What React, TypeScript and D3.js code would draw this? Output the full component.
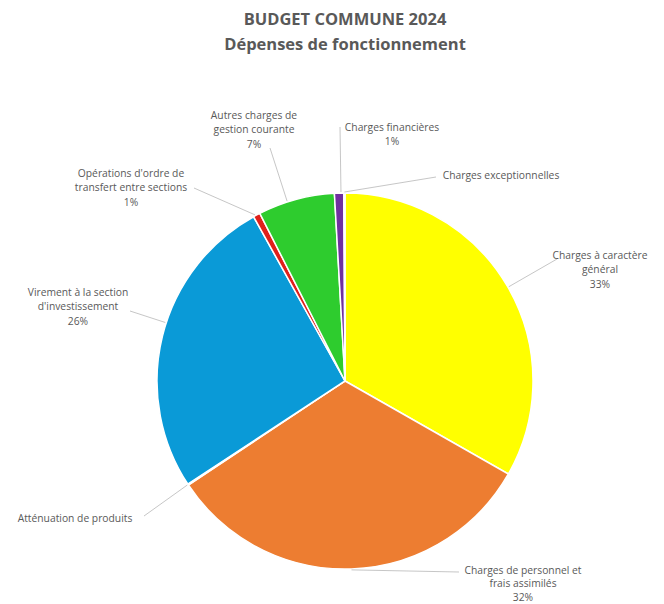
import React from "react";
import * as d3 from "d3";

const categories = [
  "Charges à caractère général",
  "Charges de personnel et frais assimilés",
  "Atténuation de produits",
  "Virement à la section d'investissement",
  "Opérations d'ordre de transfert entre sections",
  "Autres charges de gestion courante",
  "Charges financières",
  "Charges exceptionnelles",
];
const values = [33.3, 32.5, 0.1, 26.2, 0.6, 6.6, 0.8, 0.1];
const percentLabels = ["33%", "32%", "", "26%", "1%", "7%", "1%", ""];
const labelLines = [
  ["Charges à caractère", "général"],
  ["Charges de personnel et", "frais assimilés"],
  ["Atténuation de produits"],
  ["Virement à la section", "d'investissement"],
  ["Opérations d'ordre de", "transfert entre sections"],
  ["Autres charges de", "gestion courante"],
  ["Charges financières"],
  ["Charges exceptionnelles"],
];
const colors = ["#FFFF00", "#ED7D31", "#A5A5A5", "#0A9AD7", "#E0201B", "#2ECC2E", "#7030A0", "#BFBFBF"];

// layout of labels: text centre x, first line centre y, line height, leader anchor, mode
const labelLayout = [
  { cx: 600, cy: 255, lh: 14.5, ax: 557, ay: 259, mode: "near" },
  { cx: 523, cy: 570, lh: 13.5, ax: 459, ay: 572, mode: "mid" },
  { cx: 75, cy: 518, lh: 14.5, ax: 144, ay: 516, mode: "near" },
  { cx: 78, cy: 292, lh: 14.5, ax: 130, ay: 311, mode: "near" },
  { cx: 131, cy: 173, lh: 14.5, ax: 194, ay: 188, mode: "near" },
  { cx: 254, cy: 115, lh: 14.5, ax: 270, ay: 148, mode: "near" },
  { cx: 392, cy: 127, lh: 14.5, ax: 340, ay: 127, mode: "near" },
  { cx: 501, cy: 175, lh: 14.5, ax: 436, ay: 177, mode: "near" },
];

const W = 664;
const H = 604;
const CX = 345;
const CY = 381;
const R = 188;

export default function App() {
  const pie = d3.pie<number>().sort(null).value((d) => d);
  const arcs = pie(values);
  const arcGen = d3.arc<d3.PieArcDatum<number>>().innerRadius(0).outerRadius(R);

  const leaderTarget = (i: number) => {
    const a = arcs[i];
    const lay = labelLayout[i];
    let ang: number;
    if (lay.mode === "mid") {
      ang = (a.startAngle + a.endAngle) / 2;
    } else {
      const dx = lay.ax - CX;
      const dy = lay.ay - CY;
      ang = Math.atan2(dx, -dy);
      if (ang < 0) ang += Math.PI * 2;
      const lo = a.startAngle;
      const hi = a.endAngle;
      const span = hi - lo;
      const inset = Math.min(span * 0.3, 0.02);
      if (ang < lo + inset || ang > hi - inset) {
        const dist = (x: number, y: number) => {
          let d = Math.abs(x - y) % (Math.PI * 2);
          return d > Math.PI ? Math.PI * 2 - d : d;
        };
        ang = dist(ang, lo) < dist(ang, hi) ? lo + inset : hi - inset;
        if (span < 0.01) ang = (lo + hi) / 2;
      }
    }
    return [CX + (R + 1) * Math.sin(ang), CY - (R + 1) * Math.cos(ang)];
  };

  return (
    <svg width={W} height={H} style={{ display: "block", position: "absolute", left: 0, top: 0 }}>
      <rect width={W} height={H} fill="#FFFFFF" />
      <text x={345} y={25} textAnchor="middle" fontFamily="'Open Sans', sans-serif" fontWeight="bold" fontSize={16.5} fill="#595959">
        BUDGET COMMUNE 2024
      </text>
      <text x={345} y={50} textAnchor="middle" fontFamily="'Open Sans', sans-serif" fontWeight="bold" fontSize={16.5} fill="#595959">
        Dépenses de fonctionnement
      </text>
      <g transform={`translate(${CX},${CY})`}>
        {arcs.map((a, i) => (
          <path key={i} d={arcGen(a) || ""} fill={colors[i]} stroke="#FFFFFF" strokeWidth={1.5} />
        ))}
      </g>
      {labelLayout.map((lay, i) => {
        const [tx, ty] = leaderTarget(i);
        const lines = percentLabels[i] ? [...labelLines[i], percentLabels[i]] : labelLines[i];
        return (
          <g key={i}>
            <line x1={lay.ax} y1={lay.ay} x2={tx} y2={ty} stroke="#BFBFBF" strokeWidth={0.9} />
            {lines.map((t, j) => (
              <text
                key={j}
                x={lay.cx}
                y={lay.cy + j * lay.lh}
                dy="0.35em"
                textAnchor="middle"
                fontFamily="'Open Sans', sans-serif"
                fontSize={10.3}
                fill="#595959"
              >
                {t}
              </text>
            ))}
          </g>
        );
      })}
    </svg>
  );
}
